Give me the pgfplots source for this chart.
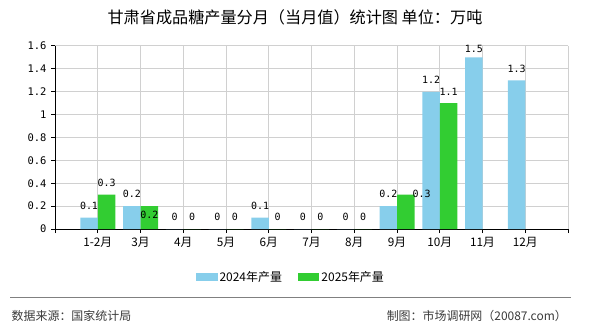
\documentclass[border=0pt]{standalone}
\usepackage{fontspec}
\setmainfont{Noto Sans CJK SC}
\newfontfamily\monofont{DejaVu Sans Mono}
\usepackage{pgfplots}
\usepackage{pgfplotstable}
\pgfplotsset{compat=1.18}
\definecolor{c2024}{HTML}{87CEEB}
\definecolor{c2025}{HTML}{32CD32}
\definecolor{gridc}{HTML}{D0D0D0}
\definecolor{foot}{HTML}{3A3A3A}
\pgfplotstableread{
x y dx dy
0 0.1 0 0
1 0.2 0 0
2 0 0 0
3 0 0 0
4 0.1 0 0
5 0 0 0
6 0 0 0
7 0.2 0 0
8 1.2 0 0
9 1.5 0 -3.3
10 1.3 0 0
}\tblA
\pgfplotstableread{
x y dx dy
0 0.3 0 0
1 0.2 0 -21
2 0 0 0
3 0 0 0
4 0 0 0
5 0 0 0
6 0 0 0
7 0.3 16 -11.6
8 1.1 0 0
}\tblB
\begin{document}
\begin{tikzpicture}[x=1bp,y=1bp]
\useasboundingbox (0,0) rectangle (590,330);
\node[font=\fontsize{16.2}{16.2}\selectfont] at (295,312.3) {甘肃省成品糖产量分月（当月值）统计图 单位：万吨};
\begin{axis}[
  at={(55bp,101bp)}, anchor=south west,
  width=513bp, height=183bp, scale only axis,
  xmin=-1, xmax=11, ymin=0, ymax=1.6,
  axis x line*=bottom, axis y line*=left,
  axis line style={black, line width=1bp, -},
  xtick={-1,0,...,11},
  xticklabels={,1-2月,3月,4月,5月,6月,7月,8月,9月,10月,11月,12月,},
  ytick={0,0.2,...,1.6},
  grid=major,
  major grid style={gridc, line width=1bp},
  tick align=outside,
  major tick length=4bp,
  tick style={black, line width=1bp},
  /pgf/number format/assume math mode=true,
  yticklabel style={font=\monofont\fontsize{10.5}{10.5}\selectfont, xshift=-1bp},
  xticklabel style={font=\fontsize{11.8}{11.8}\selectfont, yshift=-1bp},
  clip=false,
  ybar, bar width=17.5bp,
  legend columns=2,
  legend style={at={(0.46,-0.262)}, anchor=center, draw=none, fill=none,
    font=\fontsize{12}{12}\selectfont, inner sep=0pt,
    /tikz/every even column/.append style={column sep=14bp}},
  legend image code/.code={\fill[#1] (0bp,-4bp) rectangle (21.5bp,4bp);},
]
\addplot[fill=c2024, draw=none, bar shift=-8.75bp,
  nodes near coords,
  visualization depends on={\thisrow{dx} \as \dx},
  visualization depends on={\thisrow{dy} \as \dy},
  every node near coord/.append style={font=\monofont\fontsize{10}{10}\selectfont, black,
    anchor=south, inner sep=0pt, xshift=\dx, yshift=8+\dy},
  ] table[x=x, y=y] {\tblA};
\addlegendentry{2024年产量}
\addplot[fill=c2025, draw=none, bar shift=8.75bp,
  nodes near coords,
  visualization depends on={\thisrow{dx} \as \dx},
  visualization depends on={\thisrow{dy} \as \dy},
  every node near coord/.append style={font=\monofont\fontsize{10}{10}\selectfont, black,
    anchor=south, inner sep=0pt, xshift=\dx, yshift=8+\dy},
  ] table[x=x, y=y] {\tblB};
\addlegendentry{2025年产量}
\end{axis}
\draw[gray, line width=1.5bp] (10,32.3) -- (571,32.3);
\node[anchor=west, text=foot, font=\fontsize{12}{12}\selectfont, inner sep=0pt] at (11.5,14) {数据来源：国家统计局};
\node[anchor=east, text=foot, font=\fontsize{12}{12}\selectfont, inner sep=0pt] at (567,14) {制图：市场调研网（20087.com）};
\end{tikzpicture}
\end{document}
